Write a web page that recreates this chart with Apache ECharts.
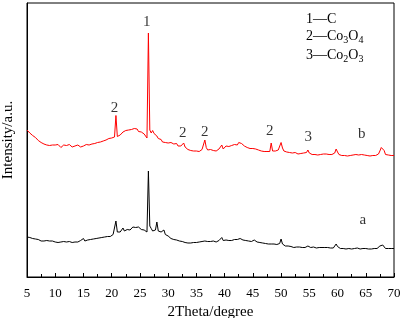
<!DOCTYPE html>
<html>
<head>
<meta charset="utf-8">
<script src="https://cdn.jsdelivr.net/npm/echarts@6/dist/echarts.min.js"></script>
<style>
  html, body { margin: 0; padding: 0; background: #fff; }
  #chart { width: 401px; height: 318px; }
</style>
</head>
<body>
<div id="chart"></div>
<script>
// scan grid: 2theta from 5 to 70 degrees, 0.25 step
const thetaStart = 5
const thetaStep = 0.25

// sample b (red, upper trace), one row per 5 degrees
const sampleB = [
  147, 145, 144, 142.5, 141.5, 140, 139.5, 137.5, 136.5, 137, 134.5, 135, 133, 134, 132, 133.5, 131.5, 133, 132, 130.5,
  132, 130.5, 132.5, 131, 129.5, 131.5, 132, 130, 131.5, 130.5, 132.5, 131, 130, 132, 131, 129.5, 132, 131.5, 130, 131.5,
  131, 130.5, 132.5, 131, 132, 131, 133, 132, 133.5, 132.5, 134.5, 134, 135, 134, 136, 135.5, 137, 136.5, 138.5, 137.5,
  139, 138.5, 140, 161.5, 140.5, 139, 142, 143.5, 145, 144, 146.5, 145, 147, 145.5, 147.5, 146, 148.5, 146.5, 148, 145.5,
  147, 145, 146.5, 143, 141, 139, 244, 147, 144, 146.5, 143.5, 142, 141, 138.5, 137, 137.5, 135, 136, 134.5, 135,
  134, 133, 134.5, 132.5, 133, 132, 133.5, 131, 132, 131, 130.5, 134, 130, 129, 127.5, 126, 126.5, 125.5, 126, 125,
  126, 126.5, 125.5, 127, 127.5, 129, 137, 129.5, 127, 126.5, 127.5, 125.5, 126.5, 127, 126, 127.5, 128, 127, 132, 128,
  128.5, 131, 129.5, 130.5, 130, 131.5, 131, 132.5, 133, 132, 134.5, 133, 133.5, 131.5, 131, 130, 129.5, 130, 128.5, 129,
  128.5, 129.5, 128, 128.5, 127, 127.5, 126, 126.5, 125.5, 126.5, 125.5, 126, 125.5, 134, 126, 127, 126, 126.5, 127, 128,
  134.5, 129, 126, 124.5, 125, 124, 124.5, 123.5, 124, 123, 124.5, 123.5, 123, 124, 123.5, 122.5, 124, 123, 124.5, 127,
  124, 123, 122.5, 123.5, 122.5, 123, 122, 123.5, 122.5, 122, 123, 122.5, 123, 122, 122.5, 123.5, 122.5, 123, 124, 128,
  125, 122.5, 122, 121.5, 122.5, 121.5, 122, 121, 122.5, 121.5, 121, 122, 121.5, 122.5, 121, 122, 121.5, 122.5, 121.5, 122,
  122.5, 121.5, 122, 121, 122, 121.5, 122.5, 121.5, 122, 123, 126, 129.5, 128, 126.5, 122.5, 121.5, 122, 121, 121.5, 121,
  121.5
]

// sample a (black, lower trace)
const sampleA = [
  40, 39, 39.5, 38, 38.5, 37.5, 38, 37, 37.5, 36.5, 36, 37, 36, 35.5, 36.5, 35.5, 36, 35, 36, 35.5,
  35, 35.5, 34.5, 35.5, 35, 34.5, 35.5, 34.5, 35, 34.5, 35.5, 35, 34.5, 35.5, 35, 36, 35, 35.5, 36.5, 35.5,
  38.5, 36, 36.5, 37, 36.5, 37.5, 37, 38, 37.5, 38.5, 38, 39, 38.5, 39.5, 39, 40, 39.5, 40.5, 41, 40.5,
  42, 42.5, 44, 56, 45, 46.5, 45, 47, 49, 46, 46.5, 47.5, 48.5, 47, 49, 50, 48.5, 49.5, 48, 50,
  48.5, 47.5, 49, 47, 46, 45, 106, 51, 48.5, 46, 45, 47, 55, 46, 44, 45, 43.5, 47, 42.5, 41.5,
  41, 40, 38.5, 39, 37.5, 38, 37, 37.5, 36, 36.5, 35.5, 35, 34.5, 35, 34, 34.5, 34, 33.5, 34.5, 34,
  34.5, 34, 35, 34.5, 35.5, 35, 36, 35, 35.5, 34.5, 35.5, 35, 36, 35.5, 35, 36, 36.5, 37, 39.5, 36.5,
  36, 37, 36, 36.5, 37.5, 36.5, 37, 37.5, 38, 37.5, 39, 38.5, 38, 37, 37.5, 36.5, 37, 36, 36.5, 35.5,
  36, 37, 35.5, 35, 35.5, 34.5, 35, 34, 34.5, 33.5, 34, 33, 33.5, 33, 34, 33, 33.5, 32.5, 33, 33.5,
  38, 33, 31.5, 31, 30.5, 31, 30, 30.5, 30, 29.5, 30.5, 30, 29.5, 30, 30.5, 29.5, 30, 29.5, 30, 31,
  30, 29.5, 29, 30, 29.5, 29, 30, 29.5, 29, 29.5, 28.5, 29.5, 29, 29.5, 28.5, 29, 29.5, 29, 30, 33,
  30.5, 29, 28.5, 29, 28.5, 29, 28, 29, 28.5, 29, 28, 29.5, 28.5, 28, 29, 28.5, 28, 29, 28.5, 28,
  28.5, 29, 28, 28.5, 28, 29, 28.5, 28, 28.5, 29.5, 31, 33, 32, 30, 28.5, 28, 28.5, 28, 28.5, 28,
  28.5
]

// peak annotations
const peakText = ['1', '2', '2', '2', '2', '3', 'b', 'a']
const peakTheta = [26.2, 20.5, 32.6, 36.5, 48.0, 54.8, 64.3, 64.5]
const peakY = [255, 169, 144.3, 144.5, 146, 139.5, 142.5, 56.5]

// phase key
const keyLines = ['{m|1—C}', '{m|2—Co}{s|3}{m|O}{s|4}', '{m|3—Co}{s|2}{m|O}{s|3}']
const keyTops = [12, 29, 48]

const font = 'Liberation Serif'
const toPairs = values => values.map((v, i) => [thetaStart + i * thetaStep, v])

const chart = echarts.init(document.getElementById('chart'))

const option = {
  animation: false,
  backgroundColor: '#fff',
  grid: {
    left: 27,
    right: 7,
    top: 3,
    bottom: 41,
    outerBoundsMode: 'none',
    containLabel: false,
    show: true,
    borderColor: '#000',
    borderWidth: 1,
    backgroundColor: 'transparent'
  },
  xAxis: {
    type: 'value',
    min: 5,
    max: 70,
    interval: 5,
    name: '2Theta/degree',
    nameLocation: 'middle',
    nameGap: 26,
    nameTextStyle: { fontFamily: font, fontSize: 15, color: '#000' },
    axisLine: { lineStyle: { color: '#000', width: 1 } },
    axisTick: { inside: true, length: 4, lineStyle: { color: '#000' } },
    minorTick: { show: true, splitNumber: 2, length: 3, lineStyle: { color: '#000' } },
    axisLabel: { fontFamily: font, fontSize: 13, color: '#000', margin: 10 },
    splitLine: { show: false }
  },
  yAxis: {
    type: 'value',
    min: 0,
    max: 274,
    name: 'Intensity/a.u.',
    nameLocation: 'middle',
    nameGap: 11,
    nameTextStyle: { fontFamily: font, fontSize: 15, color: '#000' },
    axisLine: { show: true, lineStyle: { color: '#000', width: 1 } },
    axisTick: { show: false },
    axisLabel: { show: false },
    splitLine: { show: false }
  },
  series: [
    {
      name: 'b',
      type: 'line',
      data: toPairs(sampleB),
      showSymbol: false,
      lineStyle: { color: '#ff0000', width: 1 },
      silent: true
    },
    {
      name: 'a',
      type: 'line',
      data: toPairs(sampleA),
      showSymbol: false,
      lineStyle: { color: '#000', width: 1 },
      silent: true
    },
    {
      name: 'labels',
      type: 'scatter',
      symbolSize: 0,
      silent: true,
      data: peakText.map((t, i) => [peakTheta[i], peakY[i], t]),
      label: {
        show: true,
        position: 'inside',
        formatter: p => p.data[2],
        fontFamily: font,
        fontSize: 15,
        color: '#000'
      }
    }
  ],
  graphic: keyLines.map((txt, i) => ({
    type: 'text',
    left: 306,
    top: keyTops[i],
    silent: true,
    style: {
      text: txt,
      fill: '#000',
      rich: {
        m: { fontFamily: font, fontSize: 14, lineHeight: 18, fill: '#000' },
        s: { fontFamily: font, fontSize: 10, lineHeight: 10, verticalAlign: 'bottom', fill: '#000' }
      }
    }
  }))
}

chart.setOption(option)
</script>
</body>
</html>
